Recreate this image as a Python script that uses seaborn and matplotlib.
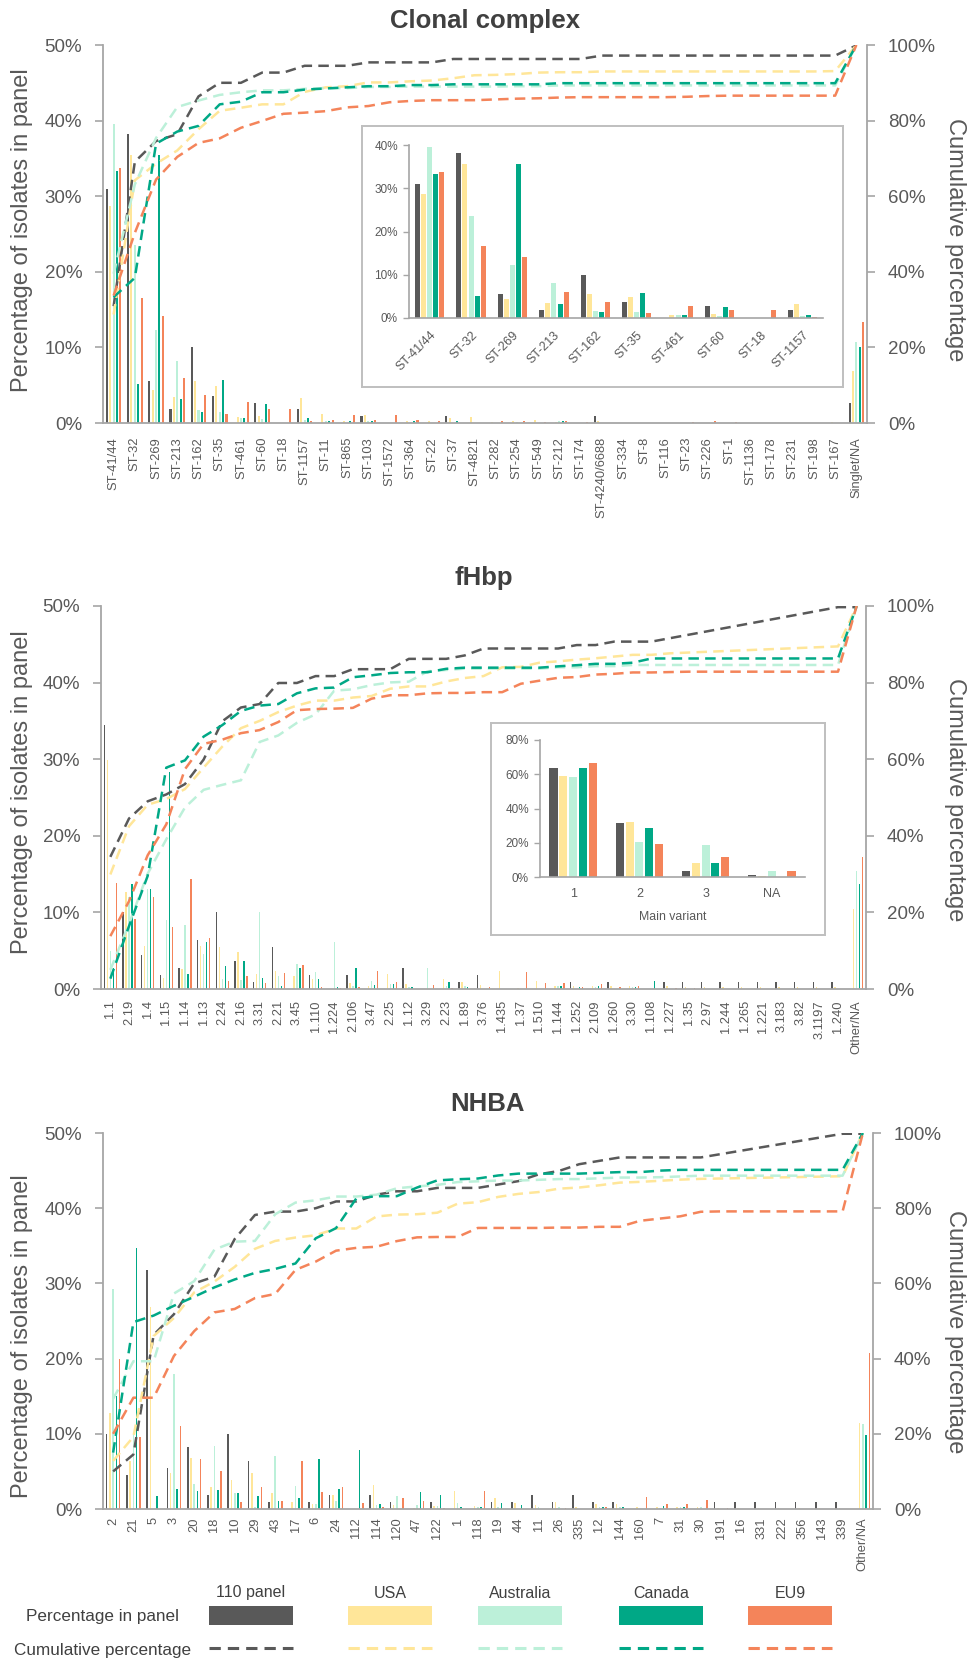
import numpy as np
import pandas as pd
import matplotlib.pyplot as plt
from matplotlib.patches import Rectangle
from matplotlib.lines import Line2D
from matplotlib.ticker import PercentFormatter
import seaborn as sns

# series shown in every panel
series = ["110 panel", "USA", "Australia", "Canada", "EU9"]
palette = ["#595959", "#FFE699", "#BCF0D9", "#00A886", "#F4845A"]

# ---- Clonal complex (% of isolates) ----
cc_labels = ["ST-41/44", "ST-32", "ST-269", "ST-213", "ST-162", "ST-35", "ST-461", "ST-60",
             "ST-18", "ST-1157", "ST-11", "ST-865", "ST-103", "ST-1572", "ST-364", "ST-22",
             "ST-37", "ST-4821", "ST-282", "ST-254", "ST-549", "ST-212", "ST-174",
             "ST-4240/6688", "ST-334", "ST-8", "ST-116", "ST-23", "ST-226", "ST-1", "ST-1136",
             "ST-178", "ST-231", "ST-198", "ST-167", "Singlet/NA"]
cc_110 = [30.9, 38.2, 5.5, 1.8, 10.0, 3.6, 0, 2.7, 0, 1.8, 0, 0, 0.9, 0, 0, 0, 0.9, 0,
          0, 0, 0, 0, 0, 0.9, 0, 0, 0, 0, 0, 0, 0, 0, 0, 0, 0, 2.7]
cc_usa = [28.7, 35.5, 4.4, 3.5, 5.6, 4.9, 0.8, 0.9, 0, 3.3, 1.2, 0.3, 1.0, 0, 0.3, 0.2, 0.6, 0.8,
          0.1, 0.2, 0.4, 0.1, 0, 0.2, 0, 0, 0, 0, 0, 0, 0, 0, 0, 0, 0.1, 6.9]
cc_aus = [39.5, 23.6, 12.3, 8.2, 1.7, 1.5, 0.7, 0.5, 0, 0.4, 0.2, 0, 0.3, 0, 0.1, 0, 0, 0,
          0, 0.1, 0, 0.2, 0, 0, 0, 0, 0, 0, 0, 0, 0, 0, 0, 0, 0, 10.7]
cc_can = [33.3, 5.1, 35.5, 3.2, 1.5, 5.7, 0.7, 2.5, 0, 0.7, 0.3, 0.3, 0.3, 0, 0.3, 0, 0.2, 0,
          0, 0, 0, 0.3, 0, 0, 0, 0, 0, 0, 0, 0, 0, 0, 0, 0, 0, 10.1]
cc_eu = [33.7, 16.6, 14.1, 6.0, 3.7, 1.2, 2.8, 1.8, 1.9, 0.3, 0.4, 1.0, 0.35, 1.0, 0.35, 0.2, 0, 0,
         0.2, 0.2, 0.1, 0.2, 0.1, 0, 0, 0, 0, 0.1, 0.2, 0.1, 0, 0, 0, 0, 0, 13.4]

# ---- fHbp ----
fh_labels = ["1.1", "2.19", "1.4", "1.15", "1.14", "1.13", "2.24", "2.16", "3.31", "2.21", "3.45",
             "1.110", "1.224", "2.106", "3.47", "2.25", "1.12", "3.29", "2.23", "1.89", "3.76",
             "1.435", "1.37", "1.510", "1.144", "1.252", "2.109", "1.260", "3.30", "1.108",
             "1.227", "1.35", "2.97", "1.244", "1.265", "1.221", "3.183", "3.82", "3.1197",
             "1.240", "Other/NA"]
fh_110 = [34.5, 10.0, 4.5, 1.8, 2.7, 6.4, 10.0, 3.6, 0.9, 5.5, 0, 1.8, 0, 1.8, 0, 0, 2.7, 0, 0,
          0.9, 1.8, 0, 0, 0, 0, 0.9, 0, 0.9, 0, 0, 0.9, 0.9, 0.9, 0.9, 0.9, 0.9, 0.9, 0.9, 0.9,
          0.9, 0]
fh_usa = [29.9, 12.6, 5.6, 1.5, 2.6, 5.6, 5.5, 4.8, 1.9, 2.3, 1.7, 1.3, 0, 0.8, 0.4, 1.9, 0.6, 0,
          1.3, 0.9, 0.5, 2.3, 0.1, 1.1, 0.35, 0.45, 0.35, 0.45, 0.45, 0, 0.4, 0.2, 0.2, 0.2, 0.2,
          0.2, 0.2, 0.2, 0.2, 0.2, 10.5]
fh_aus = [5.0, 12.0, 13.1, 9.0, 8.3, 4.6, 1.3, 1.2, 10.0, 1.7, 3.3, 2.2, 6.2, 0.35, 1.1, 0.7, 0.2,
          2.7, 0.35, 0.35, 0, 0, 0, 0, 0.35, 0, 0.3, 0, 0.3, 0, 0, 0, 0, 0, 0, 0, 0, 0, 0, 0, 15.4]
fh_can = [2.7, 13.7, 13.1, 28.3, 1.9, 6.2, 3.0, 3.7, 1.4, 0.4, 2.8, 1.3, 0.2, 2.7, 0.5, 0.6, 0.2,
          0, 0.9, 0.3, 0, 0, 0, 0, 0.35, 0.3, 0.35, 0, 0.3, 1.1, 0, 0, 0, 0, 0, 0, 0, 0, 0, 0, 13.7]
fh_eu = [13.8, 9.1, 12.0, 8.1, 14.4, 6.6, 1.1, 1.7, 0.8, 2.1, 3.1, 0.3, 0.1, 0.2, 2.4, 0.9, 0,
         0.5, 0.1, 0, 0.2, 0, 2.2, 0.8, 0.75, 0.2, 0.65, 0.2, 0.35, 0, 0.1, 0.1, 0, 0, 0, 0, 0,
         0, 0, 0, 17.2]

# fHbp main variant (inset)
mv_labels = ["1", "2", "3", "NA"]
mv_110 = [63.6, 31.8, 3.6, 0.9]
mv_usa = [59.2, 32.4, 7.9, 0.8]
mv_aus = [58.4, 20.2, 18.6, 3.3]
mv_can = [63.7, 28.5, 8.0, 0]
mv_eu = [66.4, 19.2, 11.7, 3.3]

# ---- NHBA ----
nh_labels = ["2", "21", "5", "3", "20", "18", "10", "29", "43", "17", "6", "24", "112", "114",
             "120", "47", "122", "1", "118", "19", "44", "11", "26", "335", "12", "144", "160",
             "7", "31", "30", "191", "16", "331", "222", "356", "143", "339", "Other/NA"]
nh_110 = [10.0, 4.5, 31.8, 5.5, 8.2, 1.8, 10.0, 6.4, 0.9, 0, 0.9, 1.8, 0, 1.8, 0.9, 0, 0.9, 0, 0,
          0.9, 0.9, 1.8, 0.9, 1.8, 0.9, 0.9, 0, 0, 0, 0, 0.9, 0.9, 0.9, 0.9, 0.9, 0.9, 0.9, 0]
nh_usa = [12.8, 6.4, 26.8, 4.8, 6.8, 2.9, 3.9, 4.8, 2.1, 0.9, 0.6, 1.8, 0, 3.2, 0.5, 0.1, 0.4, 2.4,
          0.4, 1.4, 0.8, 0.5, 0.9, 0.3, 0.6, 0.7, 0.2, 0.3, 0.3, 0.2, 0.1, 0.1, 0.1, 0.1, 0.1, 0.1,
          0.1, 11.5]
nh_aus = [29.3, 10.0, 0, 18.0, 3.3, 8.4, 2.1, 0.2, 7.1, 3.1, 0.6, 1.0, 0, 0.5, 1.7, 0.5, 0.4, 0.75,
          0.2, 0.2, 0, 0.2, 0.2, 0, 0.2, 0.2, 0, 0.1, 0.2, 0.2, 0, 0, 0, 0, 0, 0, 0, 11.3]
nh_can = [15.0, 34.7, 1.75, 2.6, 2.4, 2.5, 2.1, 1.75, 1.05, 1.45, 6.7, 2.7, 7.9, 0.6, 0, 2.3, 1.9,
          0.3, 0.2, 0.8, 0.5, 0, 0, 0, 0.2, 0.2, 0, 0.4, 0.2, 0, 0, 0, 0, 0, 0, 0, 0, 9.8]
nh_eu = [20.0, 9.6, 0, 11.1, 6.6, 5.0, 0.9, 2.9, 1.1, 6.4, 2.2, 2.9, 0.75, 0.3, 1.5, 1.0, 0.1, 0,
         2.4, 0, 0, 0, 0.1, 0, 0.2, 0, 1.6, 0.6, 0.6, 1.2, 0.1, 0, 0, 0, 0, 0, 0, 20.8]

TXT = "#595959"
AXC = "#A6A6A6"

sns.set_style("white")
plt.rcParams["font.family"] = ["Liberation Sans", "DejaVu Sans"]
plt.rcParams["text.color"] = TXT

W, H = 971, 1662
fig = plt.figure(figsize=(W / 100, H / 100), dpi=100)


def to_fig(l, t, r, b):
    # pixel box -> figure fraction
    return [l / W, 1 - b / H, (r - l) / W, (b - t) / H]


def long_table(labels, values):
    rows = [(lab, s, v) for s, vals in zip(series, values) for lab, v in zip(labels, vals)]
    return pd.DataFrame(rows, columns=["cat", "series", "pct"])


def bars(ax, labels, values, width, gap):
    sns.barplot(data=long_table(labels, values), x="cat", y="pct", hue="series",
                order=labels, hue_order=series, palette=palette, saturation=1,
                width=width, gap=gap, errorbar=None, linewidth=0, legend=False, ax=ax)
    ax.set_xlabel("")
    ax.set_ylabel("")
    ax.set_xlim(-0.5, len(labels) - 0.5)


def draw_panel(px, labels, values, gap, xpad, title, title_y, ylab_y, rlab_y):
    l, t, r, b = px
    ax = fig.add_axes(to_fig(l, t, r, b))
    bars(ax, labels, values, 0.8, gap)
    ax.set_ylim(0, 50)
    ax.set_yticks(range(0, 51, 10))
    ax.yaxis.set_major_formatter(PercentFormatter(decimals=0))
    ax.tick_params(axis="x", labelrotation=90, labelsize=9.3, labelcolor=TXT, length=0, pad=xpad)
    ax.tick_params(axis="y", left=True, length=6, width=1.2, color=AXC,
                   labelsize=13.5, labelcolor=TXT, pad=9)
    for side in ["top", "right"]:
        ax.spines[side].set_visible(False)
    for side in ["left", "bottom"]:
        ax.spines[side].set_color(AXC)
        ax.spines[side].set_linewidth(1.3)

    # cumulative percentage on the right axis
    ax2 = ax.twinx()
    for color, vals in zip(palette, values):
        sns.lineplot(x=labels, y=np.cumsum(vals), color=color, linewidth=1.8,
                     sort=False, ax=ax2)
    for line in ax2.lines:
        line.set_dashes((4.2, 2.5))
    ax2.set_ylim(0, 100)
    ax2.set_yticks(range(0, 101, 20))
    ax2.yaxis.set_major_formatter(PercentFormatter(decimals=0))
    ax2.set_ylabel("")
    ax2.tick_params(axis="y", right=True, length=6, width=1.2, color=AXC,
                    labelsize=13.5, labelcolor=TXT, pad=9)
    for side in ["top", "left", "bottom"]:
        ax2.spines[side].set_visible(False)
    ax2.spines["right"].set_color(AXC)
    ax2.spines["right"].set_linewidth(1.3)
    ax.set_xlim(-0.5, len(labels) - 0.5)

    cx = (l + r) / 2
    fig.text(cx / W, 1 - title_y / H, title, ha="center", va="center",
             fontsize=18.5, fontweight="bold", color="#404040")
    fig.text(22 / W, 1 - ylab_y / H, "Percentage of isolates in panel", rotation=90,
             ha="center", va="center", fontsize=17, color=TXT)
    fig.text(955 / W, 1 - rlab_y / H, "Cumulative percentage", rotation=270,
             ha="center", va="center", fontsize=17, color=TXT)
    return ax


def draw_inset(frame_px, axes_px, labels, values, ymax, ystep, rot, xlabel=None):
    frame = fig.add_axes(to_fig(*frame_px))
    frame.set_xticks([])
    frame.set_yticks([])
    frame.set_facecolor("white")
    for sp in frame.spines.values():
        sp.set_color("#BFBFBF")
        sp.set_linewidth(1.4)
    ax = fig.add_axes(to_fig(*axes_px))
    ax.patch.set_visible(False)
    bars(ax, labels, values, 0.74, 0.18)
    ax.set_ylim(0, ymax)
    ax.set_yticks(range(0, ymax + 1, ystep))
    ax.yaxis.set_major_formatter(PercentFormatter(decimals=0))
    ax.tick_params(axis="y", left=True, length=4, width=1, color=AXC,
                   labelsize=8.5, labelcolor=TXT, pad=4)
    ax.tick_params(axis="x", length=0, labelsize=9, labelcolor=TXT, pad=8)
    if rot:
        plt.setp(ax.get_xticklabels(), rotation=rot, ha="right", rotation_mode="anchor")
    if xlabel:
        ax.set_xlabel(xlabel, fontsize=8.8, color=TXT, labelpad=8)
    for side in ["top", "right"]:
        ax.spines[side].set_visible(False)
    for side in ["left", "bottom"]:
        ax.spines[side].set_color(AXC)
        ax.spines[side].set_linewidth(1.2)


# panel 1: clonal complex
draw_panel((103, 45, 867, 423), cc_labels, [cc_110, cc_usa, cc_aus, cc_can, cc_eu],
           0.4, 10, "Clonal complex", 21, 230, 240)
draw_inset((362, 126, 843, 387), (409, 145, 823, 318), cc_labels[:10],
           [v[:10] for v in [cc_110, cc_usa, cc_aus, cc_can, cc_eu]], 40, 10, 45)

# panel 2: fHbp
draw_panel((101, 606, 866, 989), fh_labels, [fh_110, fh_usa, fh_aus, fh_can, fh_eu],
           0.55, 8, "fHbp", 578, 792, 800)
draw_inset((491, 723, 825, 935), (540, 740, 805, 877), mv_labels,
           [mv_110, mv_usa, mv_aus, mv_can, mv_eu], 80, 20, 0, "Main variant")

# panel 3: NHBA
draw_panel((103, 1133, 873, 1509), nh_labels, [nh_110, nh_usa, nh_aus, nh_can, nh_eu],
           0.5, 6, "NHBA", 1104, 1336, 1332)

# legend table at the bottom
col_x = [251, 390, 520, 661, 790]
for name, color, x in zip(series, palette, col_x):
    fig.text(x / W, 1 - 1593 / H, name, ha="center", va="center", fontsize=11.5, color="#404040")
    fig.add_artist(Rectangle(((x - 42) / W, 1 - 1625 / H), 84 / W, 19 / H,
                             transform=fig.transFigure, facecolor=color, edgecolor="none"))
    fig.add_artist(Line2D([(x - 42) / W, (x + 42) / W], [1 - 1648 / H, 1 - 1648 / H],
                          transform=fig.transFigure, color=color, linewidth=2.2,
                          dashes=(3.7, 2.3)))
fig.text(103 / W, 1 - 1617 / H, "Percentage in panel", ha="center", va="center",
         fontsize=12.3, color="#404040")
fig.text(103 / W, 1 - 1650 / H, "Cumulative percentage", ha="center", va="center",
         fontsize=12.3, color="#404040")

fig.savefig("out.png", dpi=100, facecolor="white")
